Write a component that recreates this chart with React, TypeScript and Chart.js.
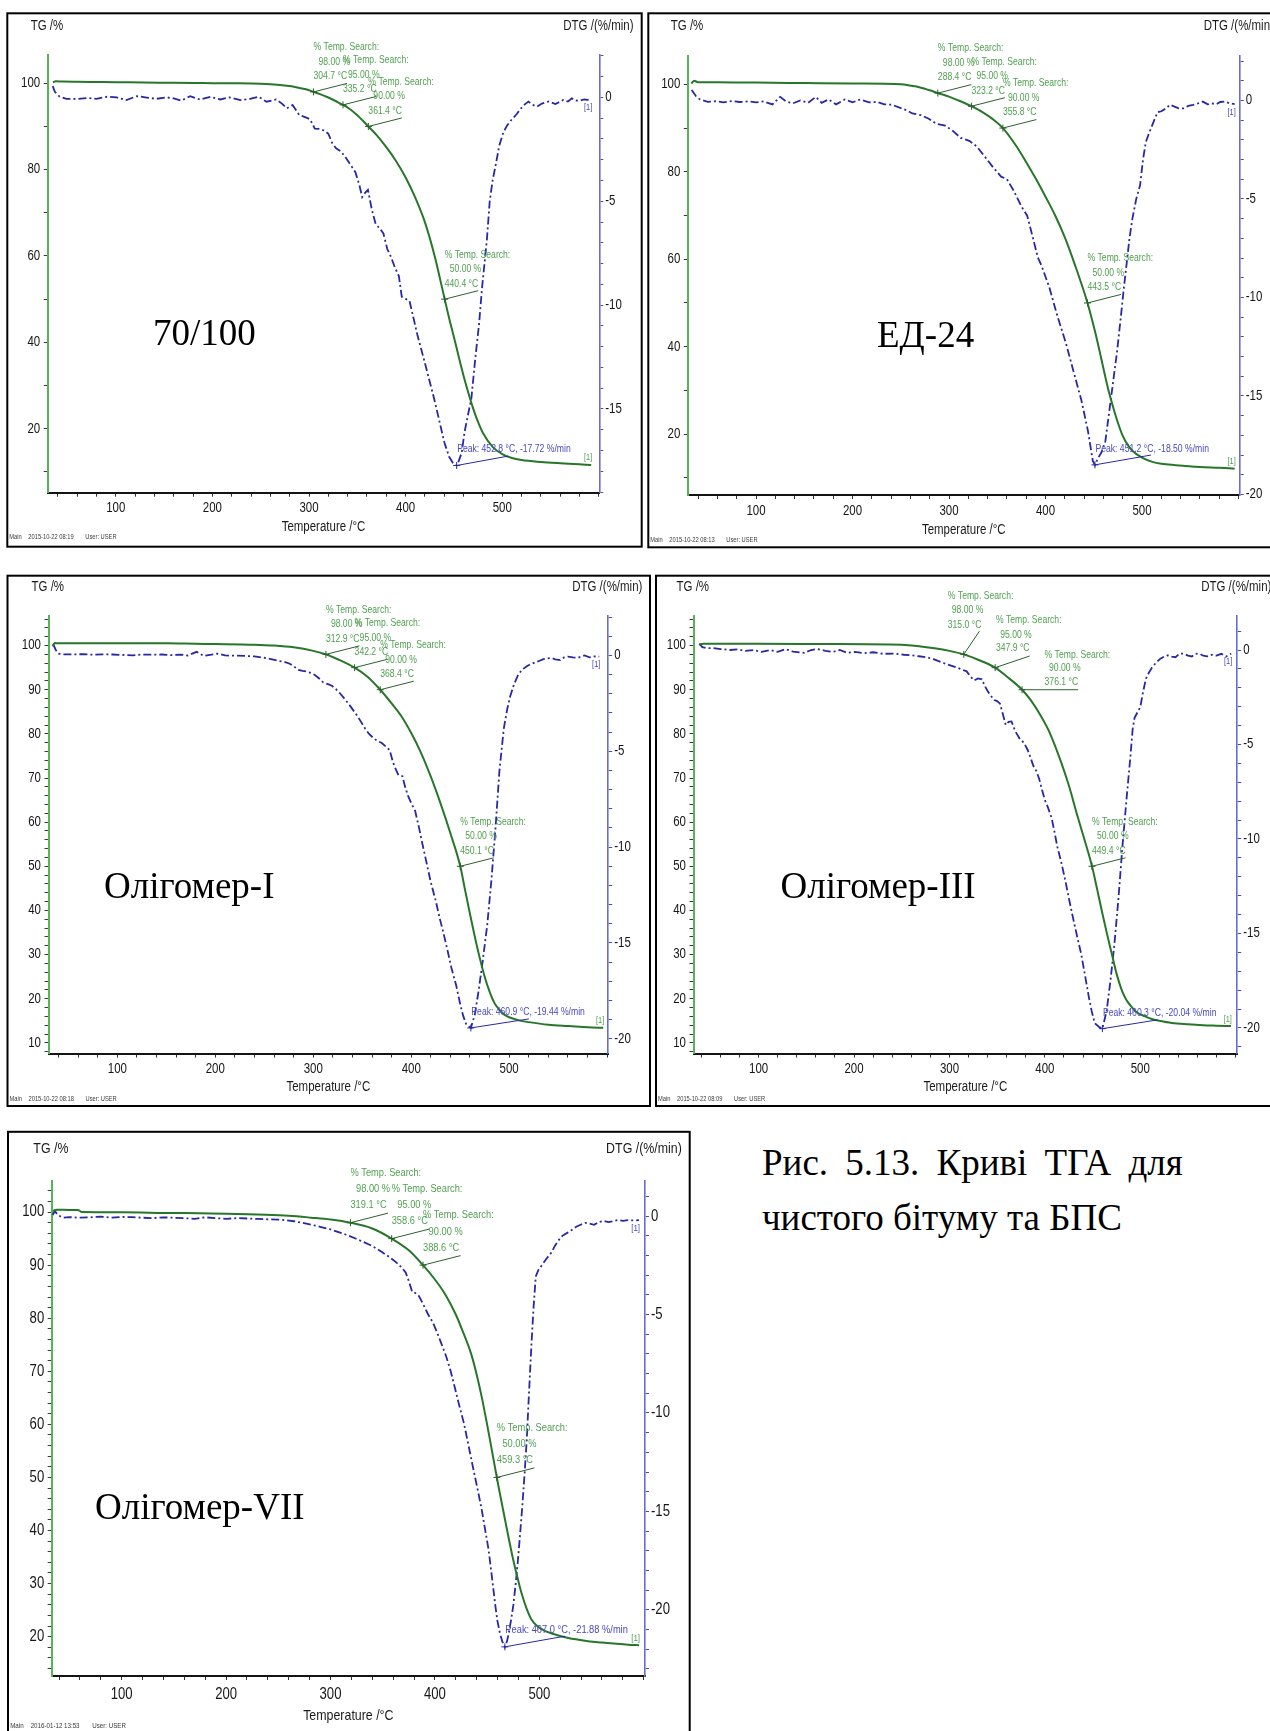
import React, { useEffect, useRef } from 'react';
import { Chart, registerables } from 'chart.js';

Chart.register(...registerables);

const PAGE_W = 1270;
const PAGE_H = 1731;
const SANS = "'Liberation Sans', Arial, sans-serif";
const SERIF = "'Liberation Serif', 'Times New Roman', serif";
// horizontal squeeze that turns the Arial-metric face into a narrow face
const SQUEEZE = 0.82;

const TG_LINE = '#27762a';
const TG_AXIS = '#58b258';
const TG_TEXT = '#4f9f4f';
const LEADER = '#2d5f2d';
const DTG_LINE = '#2828a6';
const DTG_AXIS = '#6b6bd2';
const DTG_TEXT = '#4848c2';

type Pair = [number, number];

// Mass-loss levels searched on every TG curve
const STEP_PCT = [98, 95, 90, 50];

// ---------- 70/100 ----------
const P1_TG: Pair[] = [[35,100.2],[38,100.45],[45,100.4],[60,100.35],[80,100.3],[100,100.25],[130,100.2],[160,100.1],[190,100.05],[220,100.0],[250,99.9],[260,99.8],[270,99.6],[280,99.35],[290,98.9],[300,98.4],[304.7,98.0],[310,97.6],[320,96.7],[330,95.6],[335.2,95.0],[340,94.4],[350,92.6],[361.4,90.0],[370,88.0],[380,85.2],[390,82.0],[400,78.2],[410,73.5],[420,67.8],[430,60.0],[440.4,50.0],[445,45.6],[450,41.2],[455,36.6],[460,32.2],[465,28.2],[470,24.6],[475,21.5],[480,19.0],[490,15.8],[500,14.1],[510,13.2],[520,12.75],[540,12.3],[560,12.0],[580,11.75],[592,11.6]];
const P1_DTG: Pair[] = [[34.8,0.54],[37,0.27],[42,0.03],[49,-0.07],[60,-0.08],[70,-0.03],[80,-0.07],[91,0.03],[101,0.0],[111,-0.13],[122,0.06],[132,-0.01],[142,-0.07],[153,0.0],[160,-0.05],[168,-0.16],[177,0.06],[187,-0.1],[198,0.03],[208,-0.1],[218,0.0],[229,-0.13],[239,-0.07],[248,0.03],[256,-0.21],[266,-0.1],[272,-0.3],[277,-0.53],[283,-0.37],[290,-0.85],[296,-0.95],[301,-1.05],[306,-1.5],[311,-1.52],[316,-1.6],[320,-1.75],[324,-2.2],[328,-2.45],[333,-2.6],[338,-2.9],[343,-3.25],[348,-3.6],[352,-4.2],[355,-4.8],[358,-4.6],[361,-4.45],[365,-5.4],[369,-6.1],[373,-6.3],[377,-6.55],[381,-7.3],[385,-7.7],[389,-8.2],[393,-8.6],[396,-9.6],[400,-9.7],[404,-9.8],[408,-10.6],[412,-11.4],[416,-12.1],[420,-12.8],[425,-13.7],[430,-14.6],[435,-15.6],[440,-16.6],[445,-17.3],[449,-17.6],[452.8,-17.72],[455,-17.5],[458,-17.1],[461,-16.1],[464,-15.4],[468,-14.5],[472,-12.6],[476,-10.9],[479,-9.2],[482,-7.8],[484,-6.9],[487,-5.0],[490,-4.0],[493,-3.3],[497,-2.3],[501,-1.7],[505,-1.35],[510,-1.05],[515,-0.8],[519,-0.55],[523,-0.35],[527,-0.2],[531,-0.35],[536,-0.45],[541,-0.3],[548,-0.2],[555,-0.32],[563,-0.13],[568,-0.2],[572,-0.05],[576,-0.15],[580,-0.16],[585,-0.1],[588,-0.12],[592,-0.1]];
const P1_STEP_T = [304.7, 335.2, 361.4, 440.4];
const P1_PEAK: Pair = [452.8, -17.72];

// ---------- ЕД-24 ----------
const P2_TG: Pair[] = [[33,100.2],[36,100.8],[40,100.5],[60,100.5],[100,100.4],[150,100.3],[200,100.2],[250,100.0],[260,99.7],[270,99.3],[280,98.65],[288.4,98.0],[300,97.2],[310,96.3],[323.2,95.0],[335,93.6],[345,92.1],[355.8,90.0],[370,85.8],[380,82.2],[390,78.4],[400,74.3],[410,70.0],[420,65.0],[430,59.0],[443.5,50.0],[450,44.6],[455,40.0],[460,35.0],[465,30.2],[470,26.2],[475,22.6],[480,19.6],[485,17.6],[490,16.2],[500,14.6],[510,13.7],[520,13.2],[535,12.9],[560,12.5],[580,12.3],[596,12.1]];
const P2_DTG: Pair[] = [[33.3,0.53],[38,0.2],[42,0.05],[50,-0.07],[58,-0.04],[66,-0.1],[75,-0.03],[83,-0.08],[92,-0.05],[100,-0.1],[108,-0.05],[117,-0.2],[125,0.18],[131,-0.05],[138,-0.15],[146,0.0],[154,-0.12],[162,0.18],[168,-0.12],[175,0.05],[183,-0.2],[192,0.05],[200,-0.1],[208,0.05],[217,-0.1],[225,-0.07],[233,-0.2],[241,-0.22],[250,-0.39],[256,-0.5],[262,-0.66],[271,-0.75],[279,-0.93],[287,-1.19],[296,-1.28],[304,-1.55],[312,-1.9],[321,-2.05],[329,-2.35],[337,-2.85],[346,-3.42],[354,-3.87],[360,-4.0],[367,-4.58],[375,-5.38],[381,-5.85],[387,-6.99],[392,-7.97],[396,-8.41],[404,-9.5],[412,-10.9],[421,-12.3],[429,-13.76],[437,-15.19],[444,-16.79],[449,-18.3],[451.2,-18.5],[454,-18.2],[458,-17.86],[462,-17.3],[466,-15.8],[470,-14.3],[474,-12.8],[478,-11.0],[481,-9.6],[484,-8.3],[487,-7.0],[490,-6.0],[494,-5.0],[498,-4.3],[501,-3.0],[504,-2.1],[507,-1.7],[511,-1.2],[516,-0.6],[520,-0.55],[525,-0.4],[529,-0.22],[533,-0.3],[538,-0.4],[543,-0.4],[548,-0.28],[553,-0.23],[558,-0.15],[563,-0.06],[568,-0.2],[572,-0.15],[577,-0.19],[581,-0.08],[586,-0.06],[591,-0.15],[596,-0.19]];
const P2_STEP_T = [288.4, 323.2, 355.8, 443.5];
const P2_PEAK: Pair = [451.2, -18.5];

// ---------- Олігомер-I ----------
const P3_TG: Pair[] = [[34,99.8],[36,100.6],[40,100.5],[100,100.5],[150,100.5],[180,100.4],[200,100.35],[240,100.2],[260,100.0],[280,99.6],[300,98.8],[312.9,98.0],[325,96.9],[342.2,95.0],[355,93.0],[368.4,90.0],[380,86.9],[390,84.0],[400,80.2],[410,75.7],[420,70.3],[430,64.2],[440,57.5],[450.1,50.0],[455,44.6],[460,39.2],[465,34.0],[470,29.2],[475,25.0],[480,21.6],[485,19.0],[490,17.5],[495,16.4],[500,15.8],[510,15.1],[520,14.7],[540,14.1],[560,13.8],[580,13.55],[596,13.4]];
const P3_DTG: Pair[] = [[34.4,0.6],[37,0.3],[40,0.1],[45,0.06],[55,0.05],[65,0.07],[75,0.04],[85,0.06],[95,0.05],[105,0.03],[116,0.0],[125,0.05],[135,0.04],[145,0.05],[155,0.02],[165,0.04],[172,0.0],[181,0.19],[188,-0.02],[196,0.04],[202,0.1],[210,0.0],[220,-0.01],[230,-0.02],[240,-0.05],[251,-0.13],[258,-0.2],[264,-0.28],[270,-0.33],[276,-0.43],[281,-0.6],[285,-0.75],[289,-0.8],[293,-0.84],[298,-0.92],[302,-1.03],[306,-1.2],[310,-1.4],[315,-1.5],[319,-1.58],[323,-1.75],[327,-1.96],[331,-2.2],[336,-2.52],[340,-2.8],[344,-3.08],[348,-3.4],[353,-3.82],[357,-4.1],[361,-4.29],[365,-4.45],[370,-4.57],[374,-4.75],[378,-4.94],[381,-5.5],[383,-5.8],[387,-6.24],[391,-6.3],[394,-6.9],[397,-7.36],[400,-7.7],[404,-8.11],[408,-9.0],[412,-9.97],[416,-10.9],[420,-11.84],[425,-12.8],[429,-13.7],[433,-14.5],[437,-15.38],[441,-16.3],[446,-17.24],[450,-18.2],[453,-18.8],[456.4,-19.29],[460.9,-19.44],[465,-18.73],[469,-17.43],[473,-15.94],[477.6,-14.07],[482,-11.65],[486,-9.04],[490,-6.06],[494.5,-3.82],[498,-2.8],[501,-2.14],[505,-1.5],[509,-1.03],[513,-0.75],[518,-0.56],[522,-0.45],[526,-0.37],[530,-0.3],[535,-0.19],[539,-0.15],[543,-0.13],[547,-0.2],[552,-0.24],[556,-0.1],[560,-0.06],[565,-0.1],[570,-0.12],[574,-0.05],[577,0.0],[582,-0.1],[586,-0.05],[592,-0.06]];
const P3_STEP_T = [312.9, 342.2, 368.4, 450.1];
const P3_PEAK: Pair = [460.9, -19.44];

// ---------- Олігомер-III ----------
const P4_TG: Pair[] = [[37.8,100.2],[42,100.4],[60,100.4],[100,100.4],[170,100.35],[250,100.2],[270,99.8],[284.5,99.4],[300,98.8],[315,98.0],[330,96.8],[347.9,95.0],[360,93.0],[376.1,90.0],[385,87.7],[396,84.0],[405,80.3],[417,73.6],[425,68.4],[434,61.5],[441,56.4],[449.4,50.0],[455,44.6],[460,39.6],[465,34.8],[470,30.3],[475,25.8],[480,22.3],[485,19.9],[490,18.4],[496,17.0],[505,16.0],[512,15.4],[520,15.0],[533,14.5],[550,14.2],[566,14.0],[580,13.9],[595,13.8]];
const P4_DTG: Pair[] = [[37.8,0.34],[41,0.15],[45,0.1],[52,0.1],[60,0.05],[70,0.0],[78,0.04],[86,-0.05],[95,0.0],[103,-0.1],[112,0.0],[120,-0.1],[128,0.05],[136,-0.08],[148,-0.15],[155,0.0],[162,0.05],[170,-0.04],[178,-0.1],[185,0.0],[193,-0.15],[201,-0.1],[210,-0.17],[220,-0.12],[230,-0.2],[243,-0.19],[252,-0.25],[260,-0.28],[268,-0.33],[276,-0.38],[284,-0.5],[292,-0.66],[300,-0.8],[309,-0.95],[314,-1.05],[318,-1.13],[322,-1.4],[326,-1.61],[330,-1.5],[334,-1.55],[337,-1.9],[340,-2.17],[343,-2.4],[347,-2.65],[350,-2.7],[353,-2.84],[356,-3.4],[359,-3.97],[362,-3.8],[365,-3.78],[369,-4.3],[374,-4.73],[378,-4.9],[382,-5.29],[385,-5.7],[388,-6.14],[391,-6.4],[394,-6.81],[397,-7.4],[400,-7.94],[403,-8.3],[407,-8.88],[410,-9.6],[413,-10.4],[417,-11.2],[421,-12.1],[425,-13.1],[429.5,-14.18],[434,-15.2],[438,-16.07],[442,-17.2],[446,-18.34],[449,-19.1],[452.3,-19.75],[456.5,-19.94],[460.3,-20.04],[464.8,-19.09],[469,-17.39],[473,-15.5],[477,-13.23],[481,-10.59],[485.5,-7.94],[489.6,-5.67],[492,-4.2],[494,-3.59],[497,-3.3],[500,-3.02],[503,-2.2],[506,-1.51],[509,-1.2],[512,-0.95],[516,-0.7],[520.7,-0.47],[525,-0.35],[529,-0.28],[533,-0.35],[537,-0.38],[541,-0.2],[545.6,-0.19],[550,-0.3],[554,-0.34],[558,-0.2],[562,-0.19],[566,-0.3],[570,-0.34],[575,-0.25],[580,-0.3],[585,-0.2],[590,-0.34],[595.3,-0.19]];
const P4_STEP_T = [315.0, 347.9, 376.1, 449.4];
const P4_PEAK: Pair = [460.3, -20.04];

// ---------- Олігомер-VII ----------
const P5_TG: Pair[] = [[34.2,100.2],[38,100.45],[50,100.4],[58,100.4],[62,100.0],[100,99.95],[140,99.85],[200,99.7],[238,99.5],[260,99.3],[281.5,98.95],[300,98.6],[319.1,98.0],[340,96.9],[358.6,95.0],[375,92.8],[388.6,90.0],[400,87.3],[410.5,84.3],[420,80.7],[427.7,77.0],[435,73.1],[440.6,68.9],[445,65.0],[449.2,60.8],[453,56.8],[459.3,50.0],[462,47.2],[466.5,42.7],[470,39.2],[475.1,34.4],[480,30.4],[483.7,27.7],[488,25.2],[492.3,23.3],[498,22.0],[505.2,21.1],[512,20.6],[522.4,20.0],[535,19.5],[548.2,19.1],[560,18.9],[574,18.66],[585,18.5],[595.5,18.4]];
const P5_DTG: Pair[] = [[34,0.06],[36,0.26],[39,0.05],[44,-0.08],[50,-0.05],[60,-0.08],[70,-0.06],[80,-0.02],[90,-0.08],[100,-0.04],[110,-0.05],[120,-0.08],[130,-0.1],[140,-0.06],[150,-0.08],[160,-0.1],[170,-0.14],[180,-0.06],[190,-0.1],[200,-0.14],[210,-0.1],[220,-0.12],[230,-0.14],[240,-0.16],[250,-0.18],[256,-0.2],[265,-0.26],[273,-0.34],[282,-0.44],[290,-0.54],[299,-0.66],[307,-0.8],[316,-0.96],[324.5,-1.15],[331,-1.3],[337.4,-1.45],[344,-1.65],[350,-1.85],[357,-2.1],[363,-2.35],[368,-2.6],[372,-2.86],[375,-3.3],[378.3,-3.86],[381,-3.9],[384.7,-4.06],[389,-4.5],[393.3,-4.97],[398,-5.4],[401.9,-5.88],[406,-6.45],[410.5,-7.08],[415,-7.85],[419,-8.69],[423,-9.55],[427.7,-10.5],[432,-11.6],[436.3,-12.72],[441,-13.9],[444.9,-14.93],[448,-15.9],[451.4,-16.94],[455,-18.5],[457.8,-19.76],[460,-20.6],[462.2,-21.17],[464.5,-21.6],[467,-21.88],[469,-21.6],[470.8,-21.17],[473,-20.5],[475.1,-19.76],[477.3,-18.7],[479.4,-17.55],[481.5,-16.2],[483.7,-14.73],[486,-13.0],[488,-11.31],[490,-9.1],[492.3,-6.68],[494.5,-4.6],[496.6,-3.06],[499,-2.75],[503,-2.45],[507,-2.15],[511.6,-1.85],[515,-1.5],[518.1,-1.25],[522,-1.0],[526.7,-0.85],[531,-0.7],[535.3,-0.54],[539,-0.45],[543.9,-0.34],[548,-0.38],[552.5,-0.44],[557,-0.3],[561.1,-0.24],[566,-0.3],[570,-0.26],[575,-0.2],[580,-0.24],[585,-0.2],[590,-0.22],[595.5,-0.2]];
const P5_STEP_T = [319.1, 358.6, 388.6, 459.3];
const P5_PEAK: Pair = [467.0, -21.88];

// ---------- layout ----------
interface Offsets { x: number[]; y: number[]; lx: number; ly: number }
interface Panel {
  id: string;
  frame: number[]; // x0, y0, x1, y1 (page px)
  plot: number[]; // left, right, top, bottom (page px)
  xMin: number; xMax: number;
  tgMin: number; tgMax: number; tgStep: number; tgEvery: number;
  dtgMin: number; dtgMax: number;
  tg: Pair[]; dtg: Pair[];
  stepT: number[]; peak: Pair;
  ann: Offsets[]; peakOff: Offsets;
  k: number; tickSize: number; xLabelDy: number;
  stamp: string; stampY: number;
  titleDy: number; xTitleDy: number;
}

const std = (k: number): Offsets => ({ x: [0, 5 * k, 0], y: [-44.5 * k, -30 * k, -15.5 * k], lx: 33.5 * k, ly: -8.5 * k });
const peakStd = (lx: number, ly: number, ty = -16): Offsets => ({ x: [0.5], y: [ty], lx, ly });

const PANELS: Panel[] = [
  {
    id: 'p1', frame: [7.3, 13.3, 641.7, 546.7], plot: [47.7, 599.3, 55, 492.7],
    xMin: 29.6, xMax: 600.4, tgMin: 5.18, tgMax: 106.55, tgStep: 10, tgEvery: 20, dtgMin: -19.03, dtgMax: 2.04,
    tg: P1_TG, dtg: P1_DTG, stepT: P1_STEP_T, peak: P1_PEAK,
    ann: [std(1), std(1), std(1), std(1)], peakOff: peakStd(51.7, -9.4), k: 1, tickSize: 14, xLabelDy: 15.5,
    stamp: '2015-10-22 08:19', stampY: 537.5, titleDy: 28.7, xTitleDy: 34.3,
  },
  {
    id: 'p2', frame: [648.3, 13.3, 1290, 547.3], plot: [687.8, 1239.7, 55.5, 495],
    xMin: 29.3, xMax: 601.2, tgMin: 6.07, tgMax: 106.6, tgStep: 10, tgEvery: 20, dtgMin: -20.03, dtgMax: 2.28,
    tg: P2_TG, dtg: P2_DTG, stepT: P2_STEP_T, peak: P2_PEAK,
    ann: [std(1), std(1), std(1), std(1)], peakOff: peakStd(56, -9.8), k: 1, tickSize: 14, xLabelDy: 16.5,
    stamp: '2015-10-22 08:13', stampY: 540, titleDy: 29.2, xTitleDy: 35.3,
  },
  {
    id: 'p3', frame: [7.5, 575.7, 650, 1106], plot: [48.5, 608.2, 616, 1053.6],
    xMin: 29.7, xMax: 601.1, tgMin: 7.57, tgMax: 106.7, tgStep: 2, tgEvery: 10, dtgMin: -20.78, dtgMax: 2.06,
    tg: P3_TG, dtg: P3_DTG, stepT: P3_STEP_T, peak: P3_PEAK,
    ann: [std(1), std(1), std(1), std(1)], peakOff: peakStd(58, -9), k: 1, tickSize: 14, xLabelDy: 16,
    stamp: '2015-10-22 08:18', stampY: 1099, titleDy: 28.5, xTitleDy: 33.9,
  },
  {
    id: 'p4', frame: [656, 575.7, 1290, 1106], plot: [693.5, 1237.2, 616, 1053.6],
    xMin: 31.7, xMax: 601.6, tgMin: 7.57, tgMax: 106.7, tgStep: 2, tgEvery: 10, dtgMin: -21.36, dtgMax: 1.8,
    tg: P4_TG, dtg: P4_DTG, stepT: P4_STEP_T, peak: P4_PEAK,
    ann: [
      { x: [-16, -12, -16], y: [-58.2, -43.9, -28.9], lx: 15.6, ly: -23.2 },
      { x: [0.8, 5, 0.8], y: [-47.4, -33, -20], lx: 34.4, ly: -11.6 },
      { x: [22.5, 27, 22.5], y: [-35, -21.6, -7.2], lx: 56, ly: 0 },
      std(1),
    ],
    peakOff: peakStd(55.3, -8.8), k: 1, tickSize: 14, xLabelDy: 16,
    stamp: '2015-10-22 08:09', stampY: 1099, titleDy: 28.5, xTitleDy: 33.9,
  },
  {
    id: 'p5', frame: [8, 1131.8, 689.7, 1740], plot: [51.7, 645, 1181.3, 1676],
    xMin: 33.0, xMax: 601.2, tgMin: 12.59, tgMax: 105.8, tgStep: 2, tgEvery: 10, dtgMin: -23.36, dtgMax: 1.77,
    tg: P5_TG, dtg: P5_DTG, stepT: P5_STEP_T, peak: P5_PEAK,
    ann: [std(1.12), std(1.12), std(1.12), std(1.12)], peakOff: peakStd(60, -10.7, -17.4), k: 1.08, tickSize: 16, xLabelDy: 19,
    stamp: '2016-01-12 13:53', stampY: 1726, titleDy: 32.9, xTitleDy: 40,
  },
];

const SAMPLE_NAMES = ['70/100', 'ЕД-24', 'Олігомер-I', 'Олігомер-III', 'Олігомер-VII'];
const NAME_POS: number[][] = [[153, 333], [877, 335], [104, 886], [780.5, 886], [95, 1507]];
const CAPTION = ['Рис. 5.13. Криві ТГА для', 'чистого бітуму та БПС'];

// narrow text: Arial-metric face squeezed horizontally
function narrowText(ctx: CanvasRenderingContext2D, s: string, x: number, y: number, align: CanvasTextAlign) {
  ctx.save();
  ctx.translate(x, y);
  ctx.scale(SQUEEZE, 1);
  ctx.textAlign = align;
  ctx.fillText(s, 0, 0);
  ctx.restore();
}

function overlayPlugin(p: Panel, cl: number, ct: number) {
  return {
    id: 'overlay_' + p.id,
    afterDraw(chart: any) {
      const ctx: CanvasRenderingContext2D = chart.ctx;
      const { left, right, top, bottom } = chart.chartArea;
      const k = p.k;
      const sx = chart.scales.x;
      const sT = chart.scales.yTG;
      const sD = chart.scales.yDTG;
      ctx.save();
      ctx.textBaseline = 'middle';

      // frame
      ctx.strokeStyle = '#000';
      ctx.lineWidth = 2;
      ctx.strokeRect(p.frame[0] - cl, p.frame[1] - ct, p.frame[2] - p.frame[0], p.frame[3] - p.frame[1]);

      // tick labels, placed from the scales' own ticks
      ctx.fillStyle = '#161616';
      ctx.font = `${p.tickSize}px ${SANS}`;
      sx.ticks.forEach((t: any) => {
        const v = Math.round(t.value);
        if (v % 100 === 0 && v < 600) narrowText(ctx, String(v), sx.getPixelForValue(t.value), bottom + p.xLabelDy, 'center');
      });
      sT.ticks.forEach((t: any) => {
        const v = Math.round(t.value);
        if (v % p.tgEvery === 0) narrowText(ctx, String(v), left - 7.5, sT.getPixelForValue(t.value), 'right');
      });
      sD.ticks.forEach((t: any) => {
        const v = Math.round(t.value);
        if (v % 5 === 0) narrowText(ctx, String(v), right + 6, sD.getPixelForValue(t.value), 'left');
      });

      // axis titles
      ctx.fillStyle = '#1b1b1b';
      ctx.font = `${14 * k}px ${SANS}`;
      narrowText(ctx, 'TG /%', left - 17 * k, top - p.titleDy, 'left');
      narrowText(ctx, 'DTG /(%/min)', right - 36 * k, top - p.titleDy, 'left');
      narrowText(ctx, 'Temperature /°C', (left + right) / 2, bottom + p.xTitleDy, 'center');

      // instrument stamp
      ctx.font = `${7 * k}px ${SANS}`;
      ctx.fillStyle = '#3a3a3a';
      const fx = p.frame[0] - cl;
      const fy = p.stampY - ct;
      narrowText(ctx, 'Main', fx + 2 * k, fy, 'left');
      narrowText(ctx, p.stamp, fx + 21 * k, fy, 'left');
      narrowText(ctx, 'User: USER', fx + 78 * k, fy, 'left');

      // temperature search results on TG
      ctx.font = `${10.5 * k}px ${SANS}`;
      p.stepT.forEach((t, i) => {
        const mx = sx.getPixelForValue(t);
        const my = sT.getPixelForValue(STEP_PCT[i]);
        const o = p.ann[i];
        ctx.strokeStyle = LEADER;
        ctx.lineWidth = 1;
        ctx.beginPath();
        ctx.moveTo(mx, my);
        ctx.lineTo(mx + o.lx, my + o.ly);
        ctx.moveTo(mx - 3.5, my);
        ctx.lineTo(mx + 3.5, my);
        ctx.moveTo(mx, my - 3.5);
        ctx.lineTo(mx, my + 3.5);
        ctx.stroke();
        ctx.fillStyle = TG_TEXT;
        const lines = ['% Temp. Search:', `${STEP_PCT[i].toFixed(2)} %`, `${t.toFixed(1)} °C`];
        lines.forEach((s, j) => narrowText(ctx, s, mx + o.x[j], my + o.y[j], 'left'));
      });

      // DTG peak
      const [pt, pv] = p.peak;
      const qx = sx.getPixelForValue(pt);
      const qy = sD.getPixelForValue(pv);
      const po = p.peakOff;
      ctx.strokeStyle = DTG_LINE;
      ctx.lineWidth = 1;
      ctx.beginPath();
      ctx.moveTo(qx, qy);
      ctx.lineTo(qx + po.lx, qy + po.ly);
      ctx.moveTo(qx - 3.5, qy);
      ctx.lineTo(qx + 3.5, qy);
      ctx.moveTo(qx, qy - 3.5);
      ctx.lineTo(qx, qy + 3.5);
      ctx.stroke();
      ctx.fillStyle = DTG_TEXT;
      narrowText(ctx, `Peak: ${pt.toFixed(1)} °C, ${pv.toFixed(2)} %/min`, qx + po.x[0], qy + po.y[0], 'left');

      // curve tags
      const lt = p.tg[p.tg.length - 1];
      const ld = p.dtg[p.dtg.length - 1];
      ctx.font = `${9 * k}px ${SANS}`;
      ctx.fillStyle = TG_TEXT;
      narrowText(ctx, '[1]', sx.getPixelForValue(lt[0]) + 1, sT.getPixelForValue(lt[1]) - 7, 'right');
      ctx.fillStyle = DTG_TEXT;
      narrowText(ctx, '[1]', sx.getPixelForValue(ld[0]) + 1, sD.getPixelForValue(ld[1]) + 8, 'right');

      ctx.restore();
    },
  };
}

function TgaPanel({ p }: { p: Panel }) {
  const ref = useRef<HTMLCanvasElement | null>(null);
  const cl = Math.floor(p.frame[0]) - 2;
  const ct = Math.floor(p.frame[1]) - 2;
  const cr = Math.min(PAGE_W, Math.ceil(p.frame[2]) + 2);
  const cb = Math.min(PAGE_H, Math.ceil(p.frame[3]) + 2);
  const w = cr - cl;
  const h = cb - ct;

  useEffect(() => {
    const canvas = ref.current;
    if (!canvas) return;
    const WL = 26, WR = 26, HX = 30;
    const [l, r, t, b] = p.plot;
    const chart = new Chart(canvas, {
      type: 'line',
      data: {
        datasets: [
          {
            label: 'TG',
            data: p.tg.map(([x, y]) => ({ x, y })),
            yAxisID: 'yTG',
            borderColor: TG_LINE,
            borderWidth: 2,
            pointRadius: 0,
            cubicInterpolationMode: 'monotone',
            fill: false,
          },
          {
            label: 'DTG',
            data: p.dtg.map(([x, y]) => ({ x, y })),
            yAxisID: 'yDTG',
            borderColor: DTG_LINE,
            borderWidth: 1.8,
            borderDash: [8, 3, 2, 3],
            pointRadius: 0,
            tension: 0,
            fill: false,
          },
        ],
      },
      options: {
        animation: false,
        responsive: false,
        devicePixelRatio: 1,
        events: [],
        layout: { padding: { left: l - cl - WL, right: cr - r - WR, top: t - ct, bottom: cb - b - HX } },
        plugins: { legend: { display: false }, tooltip: { enabled: false }, title: { display: false } },
        scales: {
          x: {
            type: 'linear',
            position: 'bottom',
            min: p.xMin,
            max: p.xMax,
            afterFit: (s: any) => { s.height = HX; },
            border: { display: true, color: '#141414', width: 2 },
            grid: { display: true, drawOnChartArea: false, drawTicks: true, tickLength: 4, tickColor: '#333', tickWidth: 1 },
            ticks: { display: false, stepSize: 20, autoSkip: false, includeBounds: false, maxRotation: 0 },
          },
          yTG: {
            type: 'linear',
            position: 'left',
            min: p.tgMin,
            max: p.tgMax,
            afterFit: (s: any) => { s.width = WL; },
            border: { display: true, color: TG_AXIS, width: 2 },
            grid: { display: true, drawOnChartArea: false, drawTicks: true, tickLength: 4, tickColor: '#3a3a3a', tickWidth: 1 },
            ticks: { display: false, stepSize: p.tgStep, autoSkip: false, includeBounds: false },
          },
          yDTG: {
            type: 'linear',
            position: 'right',
            min: p.dtgMin,
            max: p.dtgMax,
            afterFit: (s: any) => { s.width = WR; },
            border: { display: true, color: DTG_AXIS, width: 1.6 },
            grid: { display: true, drawOnChartArea: false, drawTicks: true, tickLength: 4, tickColor: '#50508a', tickWidth: 1 },
            ticks: { display: false, stepSize: 1, autoSkip: false, includeBounds: false },
          },
        },
      } as any,
      plugins: [overlayPlugin(p, cl, ct)],
    });
    return () => chart.destroy();
  }, []);

  return (
    <canvas
      ref={ref}
      width={w}
      height={h}
      style={{ position: 'absolute', left: cl, top: ct, width: w, height: h }}
    />
  );
}

export default function App() {
  const nameSize = 37;
  const capSize = 37;
  return (
    <div
      style={{
        position: 'absolute', left: 0, top: 0, width: PAGE_W, height: PAGE_H,
        overflow: 'hidden', background: '#fff',
      }}
    >
      {PANELS.map((p) => (
        <TgaPanel key={p.id} p={p} />
      ))}
      {SAMPLE_NAMES.map((s, i) => (
        <div
          key={s}
          style={{
            position: 'absolute', left: NAME_POS[i][0], top: NAME_POS[i][1] - 0.5075 * nameSize,
            fontFamily: SERIF, fontSize: nameSize, lineHeight: 1, whiteSpace: 'nowrap', color: '#000',
          }}
        >
          {s}
        </div>
      ))}
      {CAPTION.map((s, i) => (
        <div
          key={s}
          style={{
            position: 'absolute', left: 762, top: [1163, 1218][i] - 0.5075 * capSize,
            fontFamily: SERIF, fontSize: capSize, lineHeight: 1, whiteSpace: 'nowrap', color: '#000',
            wordSpacing: i === 0 ? 8 : 0,
          }}
        >
          {s}
        </div>
      ))}
    </div>
  );
}
